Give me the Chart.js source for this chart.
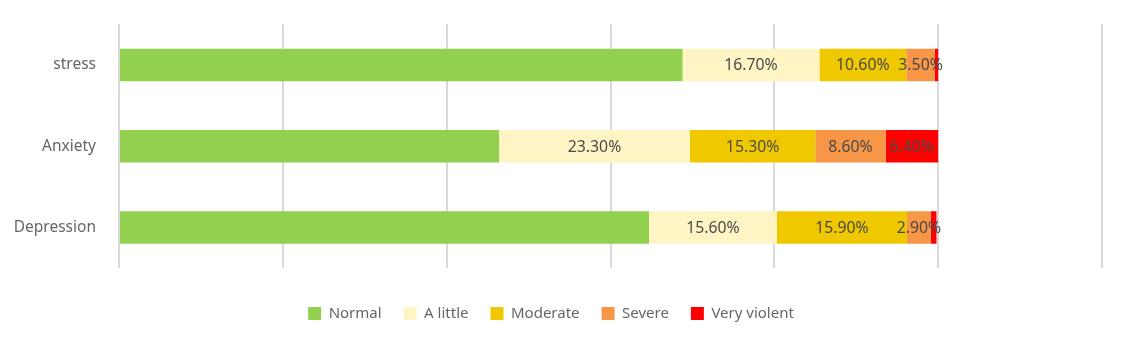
<!DOCTYPE html>
<html><head><meta charset="utf-8">
<script src="https://cdn.jsdelivr.net/npm/chart.js@4.4.1/dist/chart.umd.min.js"></script>
<style>html,body{margin:0;padding:0;background:#fff}#wrap{width:1125px;height:350px}</style>
</head><body><div id="wrap"><canvas id="c"></canvas></div>
<script>
const categories = ["stress", "Anxiety", "Depression"];
const seriesNames = ["Normal", "A little", "Moderate", "Severe", "Very violent"];
const normal = [68.8, 46.4, 64.7];
const aLittle = [16.7, 23.3, 15.6];
const moderate = [10.6, 15.3, 15.9];
const severe = [3.5, 8.6, 2.9];
const veryViolent = [0.4, 6.4, 0.7];
const showLabel = [false, true, true, true, true];
const labelMin = 2;
const colors = ["#92d050", "#fff5c4", "#f0c800", "#f79646", "#ff0000"];
const xTicks = [0, 20, 40, 60, 80, 100, 120];

const seriesData = [normal, aLittle, moderate, severe, veryViolent];
const FONT = "'Noto Sans', sans-serif";

const labelPlugin = {
  id: 'segLabels',
  afterDatasetsDraw(chart) {
    const ctx = chart.ctx;
    ctx.save();
    ctx.font = "15.8px " + FONT;
    ctx.fillStyle = "#4a4a4a";
    ctx.textAlign = "center";
    ctx.textBaseline = "middle";
    chart.data.datasets.forEach((ds, di) => {
      if (!showLabel[di]) return;
      const meta = chart.getDatasetMeta(di);
      meta.data.forEach((bar, i) => {
        const v = ds.data[i];
        if (v < labelMin) return;
        const cx = (bar.x + bar.base) / 2;
        ctx.fillText(v.toFixed(2) + "%", cx, bar.y + 1);
      });
    });
    ctx.restore();
  }
};

new Chart(document.getElementById('c'), {
  type: 'bar',
  data: {
    labels: categories,
    datasets: seriesNames.map((n, i) => ({
      label: n,
      data: seriesData[i],
      backgroundColor: colors[i],
      borderWidth: 0,
      barPercentage: 0.4,
      categoryPercentage: 1.0
    }))
  },
  options: {
    indexAxis: 'y',
    responsive: true,
    maintainAspectRatio: false,
    animation: false,
    layout: { padding: { top: 14, right: 23, left: 0, bottom: 19 } },
    scales: {
      x: {
        stacked: true,
        min: xTicks[0],
        max: xTicks[xTicks.length - 1],
        afterBuildTicks(axis) { axis.ticks = xTicks.map(v => ({ value: v })); },
        ticks: { display: false },
        grid: { color: "#d9d9d9", lineWidth: 2, drawTicks: false },
        border: { display: false },
        afterFit(axis) { axis.height = 16; }
      },
      y: {
        stacked: true,
        grid: { display: false },
        border: { display: false },
        ticks: { color: "#666666", font: { family: FONT, size: 15.5 }, padding: 15 },
        afterFit(axis) { axis.width = 119; }
      }
    },
    plugins: {
      legend: {
        position: 'bottom',
        labels: {
          boxWidth: 13, boxHeight: 13, padding: 22,
          color: "#666666",
          font: { family: FONT, size: 15 }
        }
      },
      tooltip: { enabled: false }
    }
  },
  plugins: [labelPlugin]
});
</script></body></html>
